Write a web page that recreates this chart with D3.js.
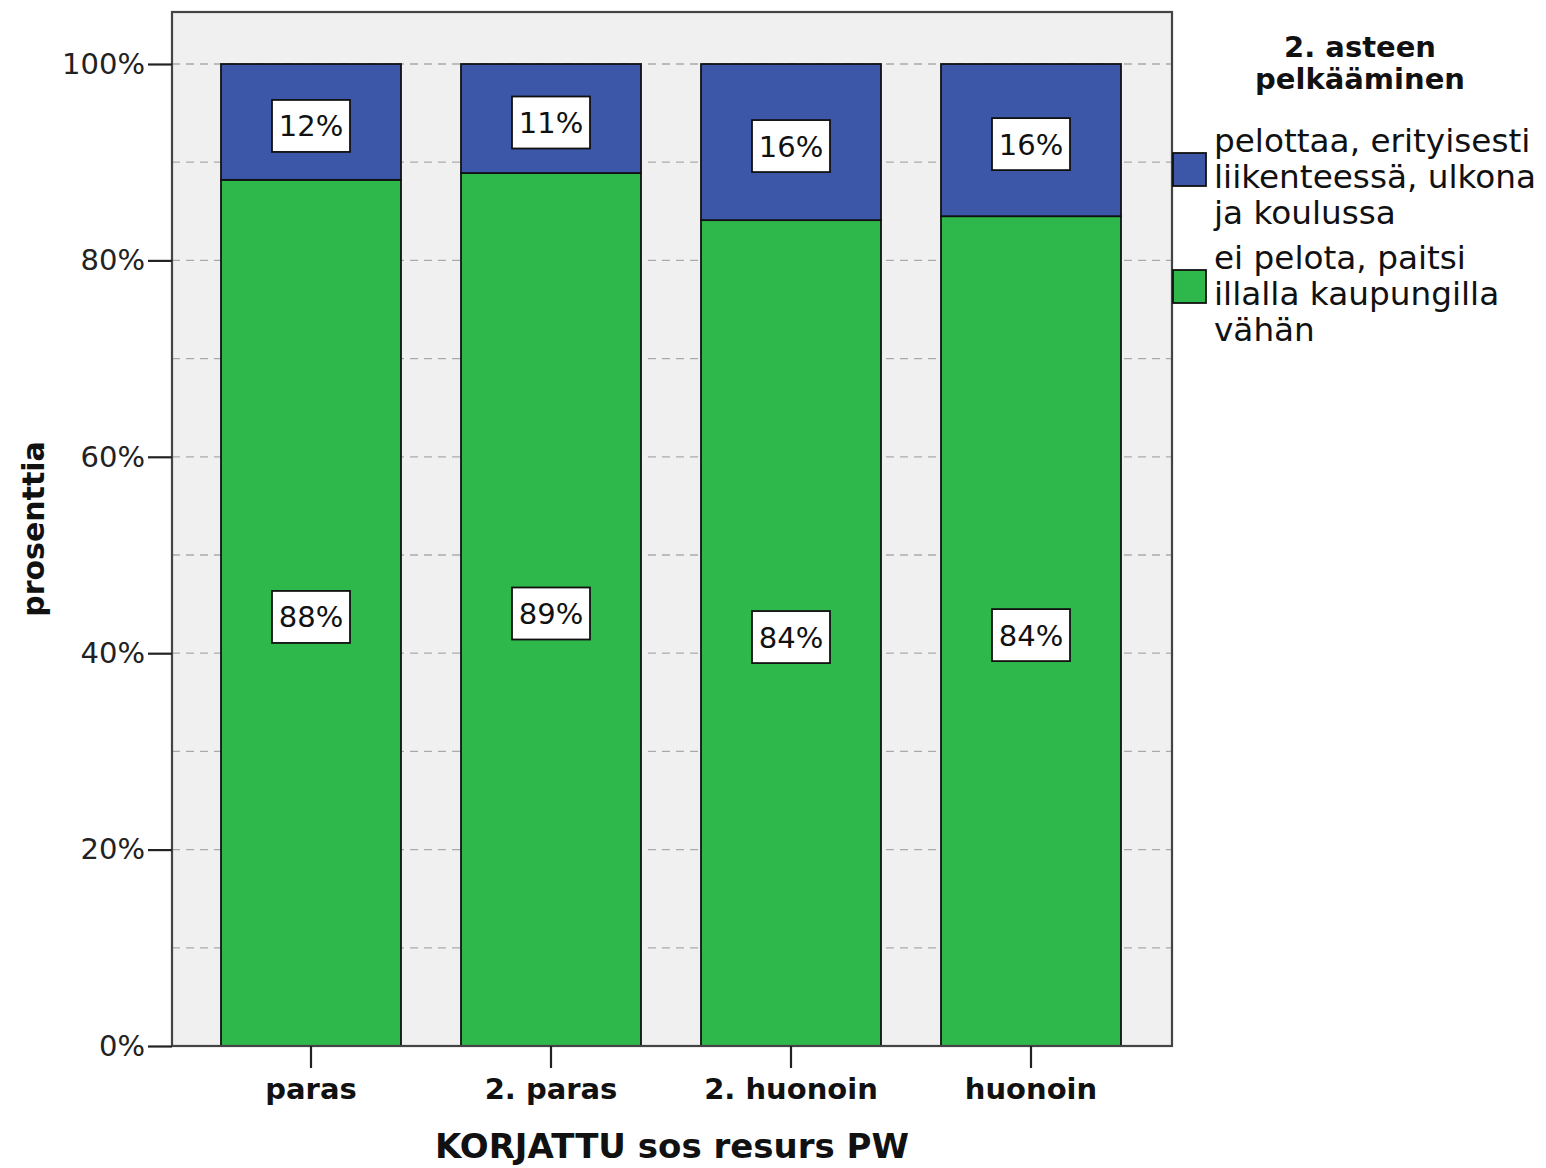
<!DOCTYPE html>
<html>
<head>
<meta charset="utf-8">
<script src="https://cdn.jsdelivr.net/npm/d3@7"></script>
<style>
  html, body { margin: 0; padding: 0; background: #ffffff; }
  svg { display: block; }
</style>
</head>
<body>
<svg id="chart" width="1546" height="1168"></svg>
<script>
// ---- data ----
const categories = ["paras", "2. paras", "2. huonoin", "huonoin"];
const greenValues = [88.2, 88.9, 84.1, 84.5];   // ei pelota, paitsi illalla kaupungilla vähän
const blueValues  = [11.8, 11.1, 15.9, 15.5];   // pelottaa, erityisesti liikenteessä, ulkona ja koulussa
const greenLabels = ["88%", "89%", "84%", "84%"];
const blueLabels  = ["12%", "11%", "16%", "16%"];
const yTickValues = [0, 20, 40, 60, 80, 100];
const gridValues  = [10, 20, 30, 40, 50, 60, 70, 80, 90, 100];
const legendTitle = ["2. asteen", "pelkääminen"];
const legendItems = [
  { lines: ["pelottaa, erityisesti", "liikenteessä, ulkona", "ja koulussa"], color: "#3c56a8" },
  { lines: ["ei pelota, paitsi", "illalla kaupungilla", "vähän"], color: "#2eb84b" }
];
const xTitle = "KORJATTU sos resurs PW";
const yTitle = "prosenttia";

// ---- layout ----
const plot = { left: 172, right: 1172, top: 12, bottom: 1046 };
const svg = d3.select("#chart");
const FONT = "'DejaVu Sans', sans-serif";

const x = d3.scaleBand().domain(categories).range([191, 1151]).paddingInner(0.25).paddingOuter(0.125);
const y = d3.scaleLinear().domain([0, 100]).range([plot.bottom, 64]);

// background
svg.append("rect")
  .attr("x", plot.left).attr("y", plot.top)
  .attr("width", plot.right - plot.left).attr("height", plot.bottom - plot.top)
  .attr("fill", "#f0f0f0");

// gridlines
svg.append("g").selectAll("line").data(gridValues).join("line")
  .attr("x1", plot.left).attr("x2", plot.right)
  .attr("y1", d => y(d)).attr("y2", d => y(d))
  .attr("stroke", "#aaaaaa").attr("stroke-width", 1.3)
  .attr("stroke-dasharray", "8,6");

// stacked bars
const stackData = categories.map((c, i) => ({ cat: c, green: greenValues[i], blue: blueValues[i], gl: greenLabels[i], bl: blueLabels[i] }));
const series = d3.stack().keys(["green", "blue"])(stackData);
const colors = { green: "#2eb84b", blue: "#3c56a8" };

const gBars = svg.append("g");
series.forEach(s => {
  gBars.append("g").selectAll("rect").data(s).join("rect")
    .attr("x", d => x(d.data.cat))
    .attr("width", x.bandwidth())
    .attr("y", d => y(d[1]))
    .attr("height", d => y(d[0]) - y(d[1]))
    .attr("fill", colors[s.key])
    .attr("stroke", "#111")
    .attr("stroke-width", 1.8);
});

// data labels
const boxW = 78, boxH = 52;
series.forEach(s => {
  const g = svg.append("g").selectAll("g").data(s).join("g")
    .attr("transform", d => `translate(${x(d.data.cat) + x.bandwidth() / 2},${(y(d[0]) + y(d[1])) / 2 + 4})`);
  g.append("rect")
    .attr("x", -boxW / 2).attr("y", -boxH / 2)
    .attr("width", boxW).attr("height", boxH)
    .attr("fill", "#fff").attr("stroke", "#111").attr("stroke-width", 1.8);
  g.append("text")
    .attr("text-anchor", "middle")
    .attr("dy", "0.36em")
    .attr("font-family", FONT).attr("font-size", 29)
    .attr("fill", "#111")
    .text(d => s.key === "green" ? d.data.gl : d.data.bl);
});

// frame
svg.append("rect")
  .attr("x", plot.left).attr("y", plot.top)
  .attr("width", plot.right - plot.left).attr("height", plot.bottom - plot.top)
  .attr("fill", "none").attr("stroke", "#444").attr("stroke-width", 2.2);

// y axis
const yAxis = d3.axisLeft(y).tickValues(yTickValues).tickFormat(d => d + "%").tickSize(24).tickPadding(3);
const gy = svg.append("g").attr("transform", `translate(${plot.left},0)`).call(yAxis);
gy.select(".domain").remove();
gy.selectAll(".tick line").attr("stroke", "#222").attr("stroke-width", 2.2);
gy.selectAll(".tick text").attr("font-family", FONT).attr("font-size", 29).attr("fill", "#222");

// x axis
const xAxis = d3.axisBottom(x).tickSize(22).tickPadding(8);
const gx = svg.append("g").attr("transform", `translate(0,${plot.bottom})`).call(xAxis);
gx.select(".domain").remove();
gx.selectAll(".tick line").attr("stroke", "#222").attr("stroke-width", 2.2);
gx.selectAll(".tick text").attr("font-family", FONT).attr("font-size", 29).attr("font-weight", "bold").attr("fill", "#111")
  .attr("dy", null).attr("y", 53);

// axis titles
svg.append("text")
  .attr("x", (plot.left + plot.right) / 2).attr("y", 1158)
  .attr("text-anchor", "middle")
  .attr("font-family", FONT).attr("font-size", 34).attr("font-weight", "bold").attr("fill", "#111")
  .text(xTitle);

svg.append("text")
  .attr("transform", `translate(44,${(plot.top + plot.bottom) / 2 + 0}) rotate(-90)`)
  .attr("text-anchor", "middle")
  .attr("font-family", FONT).attr("font-size", 30).attr("font-weight", "bold").attr("fill", "#111")
  .text(yTitle);

// legend
const lg = svg.append("g");
lg.selectAll("text.lt").data(legendTitle).join("text")
  .attr("class", "lt")
  .attr("x", 1360).attr("y", (d, i) => 57 + i * 32)
  .attr("text-anchor", "middle")
  .attr("font-family", FONT).attr("font-size", 29).attr("font-weight", "bold").attr("fill", "#111")
  .text(d => d);

const itemTop = [152, 269];
legendItems.forEach((it, k) => {
  const base = itemTop[k];
  lg.append("rect")
    .attr("x", 1173).attr("y", base + 1)
    .attr("width", 33).attr("height", 33)
    .attr("fill", it.color).attr("stroke", "#111").attr("stroke-width", 1.8);
  lg.append("g").selectAll("text").data(it.lines).join("text")
    .attr("x", 1214).attr("y", (d, i) => base + i * 36)
    .attr("font-family", FONT).attr("font-size", 32.7).attr("fill", "#111")
    .text(d => d);
});
</script>
</body>
</html>
